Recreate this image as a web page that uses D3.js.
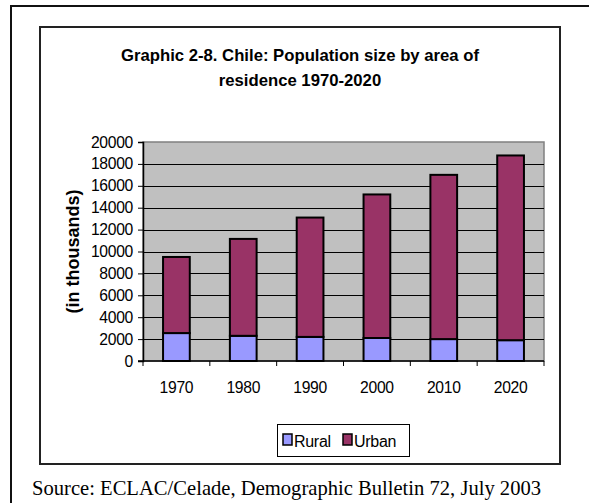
<!DOCTYPE html>
<html>
<head>
<meta charset="utf-8">
<script src="https://cdn.jsdelivr.net/npm/d3@7/dist/d3.min.js"></script>
<style>
  html, body { margin: 0; padding: 0; background: #fff; }
  svg { display: block; }
</style>
</head>
<body>
<script>
// Chile population by area of residence (thousands)
const years = ["1970", "1980", "1990", "2000", "2010", "2020"];
const rural = [2550, 2300, 2200, 2100, 2000, 1900];
const urban = [6950, 8850, 10900, 13110, 15000, 16870];
const yTicks = [0, 2000, 4000, 6000, 8000, 10000, 12000, 14000, 16000, 18000, 20000];
const seriesNames = ["Rural", "Urban"];
const seriesColors = ["#9999FF", "#993366"];

const W = 589, H = 503;
const svg = d3.select("body").append("svg").attr("width", W).attr("height", H);
const sans = "'Liberation Sans', Arial, sans-serif";
const serif = "'Liberation Serif', 'Times New Roman', serif";

// outer frame (runs past the right and bottom edges)
svg.append("rect").attr("x", 11).attr("y", 6).attr("width", 600).attr("height", 520)
  .attr("fill", "none").attr("stroke", "#111").attr("stroke-width", 2);

// chart frame
svg.append("rect").attr("x", 40).attr("y", 27).attr("width", 520).attr("height", 437)
  .attr("fill", "#fff").attr("stroke", "#222").attr("stroke-width", 2);

// title
const title = svg.append("text").attr("text-anchor", "middle")
  .attr("font-family", sans).attr("font-weight", "bold").attr("font-size", 16.7)
  .attr("fill", "#000");
title.append("tspan").attr("x", 300).attr("y", 61).text("Graphic 2-8. Chile: Population size by area of");
title.append("tspan").attr("x", 300).attr("y", 86).text("residence 1970-2020");

const plot = { left: 143, right: 544, top: 142, bottom: 361 };

const x = d3.scaleBand().domain(years).range([plot.left, plot.right])
  .paddingInner(0.6).paddingOuter(0.3);
const y = d3.scaleLinear().domain([0, 20000]).range([plot.bottom, plot.top]);

// plot background
svg.append("rect").attr("x", plot.left).attr("y", plot.top)
  .attr("width", plot.right - plot.left).attr("height", plot.bottom - plot.top)
  .attr("fill", "#C0C0C0").attr("stroke", "#808080").attr("stroke-width", 1.5);

// gridlines
svg.append("g").selectAll("line").data(yTicks.filter(v => v > 0 && v < 20000)).join("line")
  .attr("x1", plot.left).attr("x2", plot.right)
  .attr("y1", d => Math.round(y(d)) + 0.5).attr("y2", d => Math.round(y(d)) + 0.5)
  .attr("stroke", "#000").attr("stroke-width", 1);

// stacked bars
const rows = years.map((yr, i) => ({ year: yr, Rural: rural[i], Urban: urban[i] }));
const stacked = d3.stack().keys(seriesNames)(rows);
const color = d3.scaleOrdinal().domain(seriesNames).range(seriesColors);

svg.append("g").selectAll("g").data(stacked).join("g")
  .attr("fill", d => color(d.key))
  .selectAll("rect").data(d => d).join("rect")
  .attr("x", d => x(d.data.year))
  .attr("y", d => y(d[1]))
  .attr("width", x.bandwidth())
  .attr("height", d => y(d[0]) - y(d[1]))
  .attr("stroke", "#000").attr("stroke-width", 2);

// y axis
const yAxis = svg.append("g").attr("transform", `translate(${plot.left},0)`)
  .call(d3.axisLeft(y).tickValues(yTicks).tickFormat(d3.format("d")).tickSize(5).tickPadding(5));
yAxis.select(".domain").attr("stroke", "#000").attr("stroke-width", 1.5);
yAxis.selectAll(".tick line").attr("stroke", "#000");
yAxis.selectAll("text").attr("font-family", sans).attr("font-size", 15.7)
  .attr("letter-spacing", -0.3).attr("fill", "#000");

// x axis: ticks between categories
const xAxis = svg.append("g").attr("transform", `translate(0,${plot.bottom})`);
xAxis.append("line").attr("x1", plot.left - 5).attr("x2", plot.right)
  .attr("stroke", "#000").attr("stroke-width", 1.5);
const step = x.step();
const bounds = d3.range(years.length + 1).map(i => plot.left + i * step);
xAxis.selectAll(".bt").data(bounds).join("line").attr("class", "bt")
  .attr("x1", d => d).attr("x2", d => d).attr("y1", 0).attr("y2", 5)
  .attr("stroke", "#000").attr("stroke-width", 1);
xAxis.selectAll("text").data(years).join("text")
  .attr("x", d => x(d) + x.bandwidth() / 2).attr("y", 32)
  .attr("text-anchor", "middle").attr("font-family", sans).attr("font-size", 15.7)
  .attr("letter-spacing", -0.3).attr("fill", "#000").text(d => d);

// y axis title
svg.append("text")
  .attr("transform", `translate(79,${(plot.top + plot.bottom) / 2}) rotate(-90)`)
  .attr("text-anchor", "middle").attr("font-family", sans).attr("font-weight", "bold")
  .attr("font-size", 18).attr("fill", "#000").text("(in thousands)");

// legend
const lg = svg.append("g");
lg.append("rect").attr("x", 277.5).attr("y", 424.5).attr("width", 132).attr("height", 32)
  .attr("fill", "#fff").attr("stroke", "#000").attr("stroke-width", 1);
const legendItems = [
  { name: seriesNames[0], sx: 283, tx: 294 },
  { name: seriesNames[1], sx: 343, tx: 354 }
];
legendItems.forEach(it => {
  lg.append("rect").attr("x", it.sx).attr("y", 434).attr("width", 9).attr("height", 11)
    .attr("fill", color(it.name)).attr("stroke", "#000").attr("stroke-width", 1.5);
  lg.append("text").attr("x", it.tx).attr("y", 446.5)
    .attr("font-family", sans).attr("font-size", 16).attr("letter-spacing", -0.3)
    .attr("fill", "#000").text(it.name);
});

// source note
svg.append("text").attr("x", 32).attr("y", 495)
  .attr("font-family", serif).attr("font-size", 20.6).attr("fill", "#000")
  .text("Source: ECLAC/Celade, Demographic Bulletin 72, July 2003");
</script>
</body>
</html>
